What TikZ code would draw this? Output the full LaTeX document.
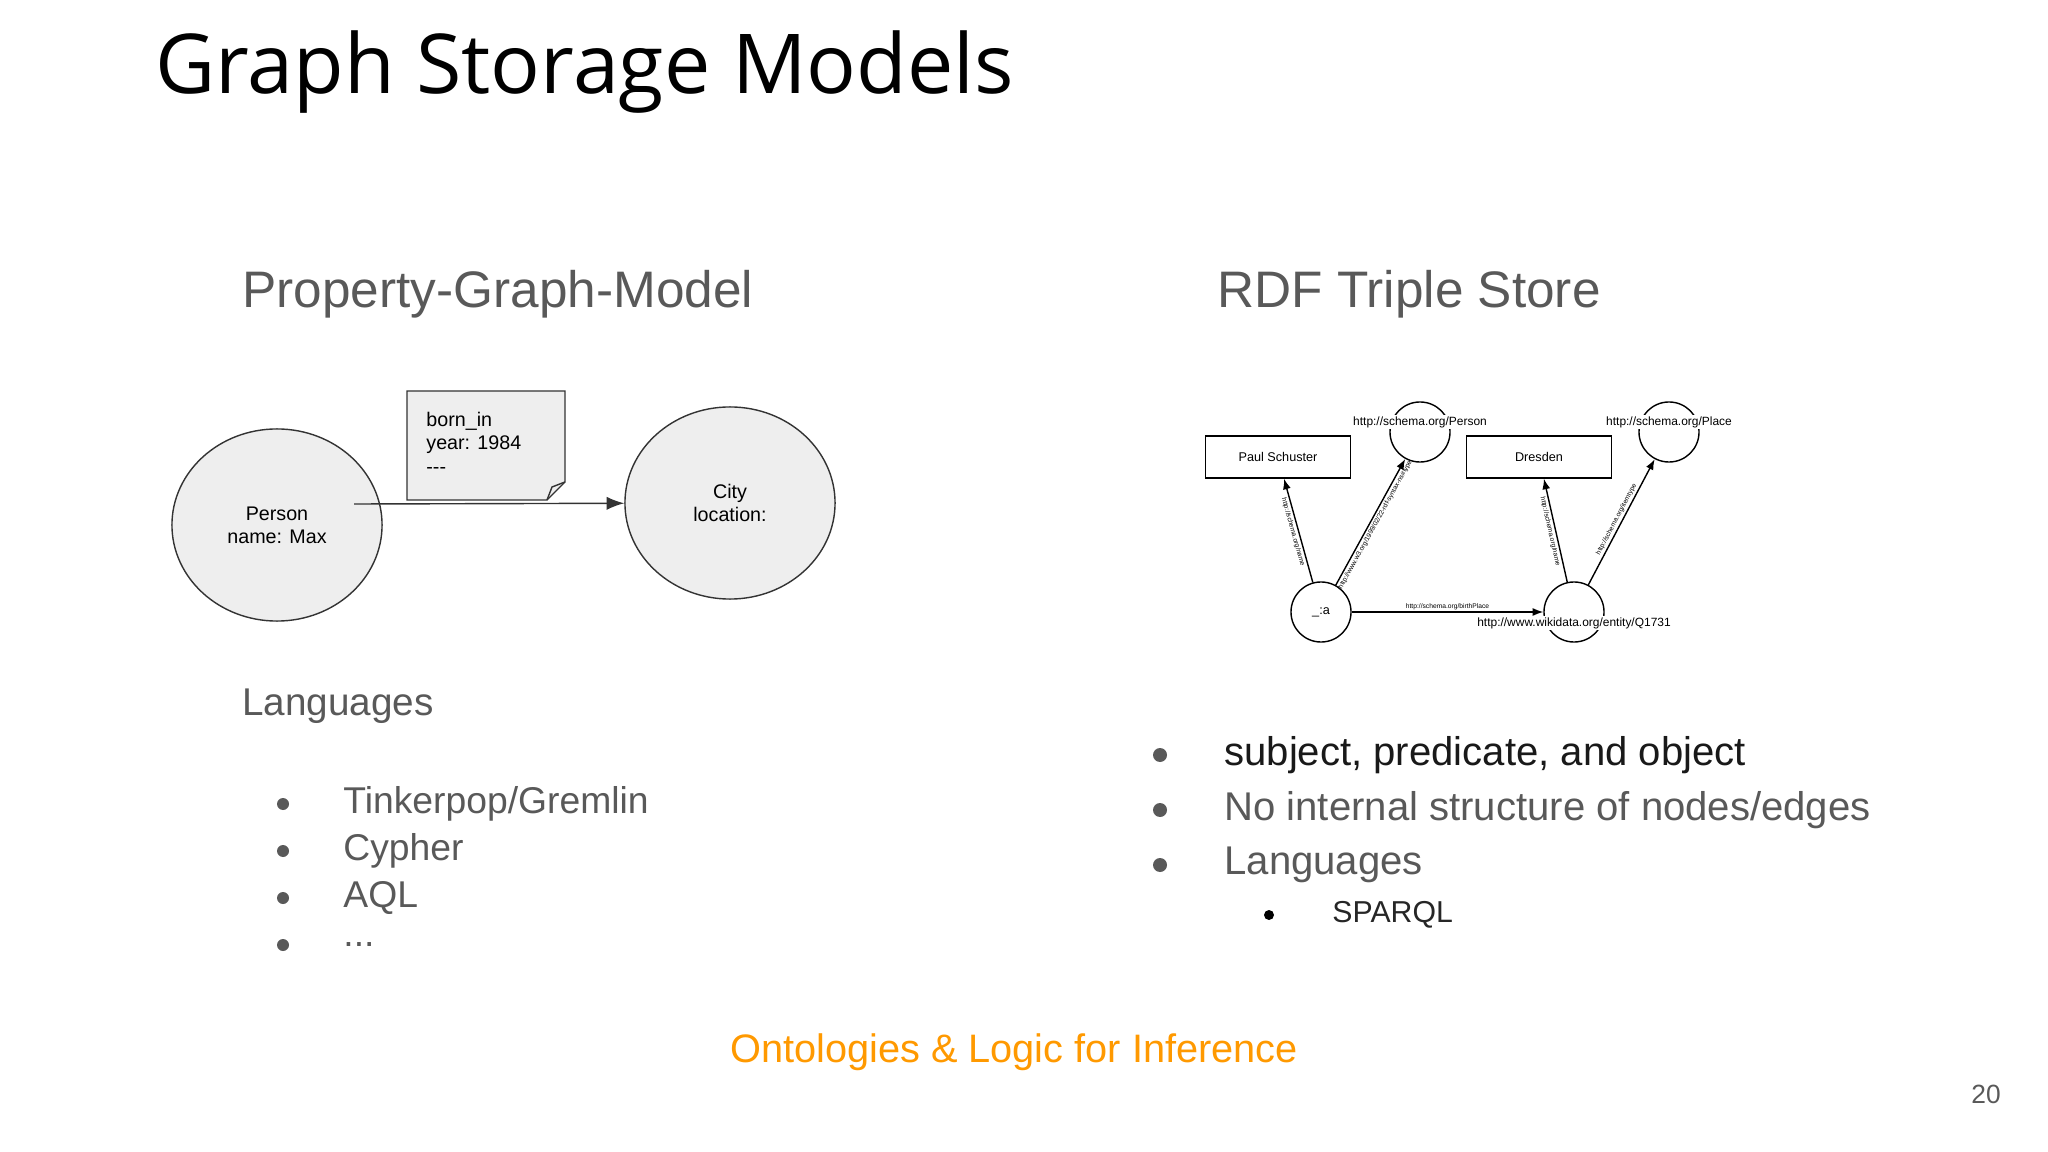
\documentclass[tikz,border=0pt]{standalone}
\usepackage{fontspec}
\setmainfont{Liberation Sans}
\newfontfamily\titlefont{Open Sans}
\usetikzlibrary{positioning,arrows.meta,shapes}
\definecolor{txtgray}{RGB}{89,89,89}
\definecolor{nodefill}{RGB}{238,238,238}
\definecolor{orangetxt}{RGB}{255,153,0}
\begin{document}
\begin{tikzpicture}[x=0.01cm,y=-0.01cm,
    blob/.style={ellipse,draw=black!80,fill=nodefill,minimum width=2.1cm,minimum height=1.92cm,align=center,font=\fontsize{5.6}{6.6}\selectfont},
    rnode/.style={circle,draw,minimum size=0.6cm,inner sep=0pt},
    rbox/.style={rectangle,draw,minimum width=1.45cm,minimum height=0.42cm,font=\fontsize{3.6}{4}\selectfont},
    ulabel/.style={font=\fontsize{3.4}{4}\selectfont,fill=white,inner sep=0.5pt},
    elabel/.style={font=\fontsize{1.9}{2}\selectfont,inner sep=0.5pt},
    head/.style={anchor=west,text=txtgray,font=\fontsize{14.6}{16}\selectfont},
    item/.style={anchor=west,text=txtgray,font=\fontsize{10.6}{12}\selectfont},
    ritem/.style={anchor=west,text=txtgray,font=\fontsize{11.4}{13}\selectfont}]
    \useasboundingbox (0,0) rectangle (2048,1152);

    % Title
    \node[anchor=west,font=\titlefont\fontsize{23.5}{26}\selectfont] (title) at (143,72) {Graph Storage Models};

    % Property graph
    \node[head] (pgm) at (230,294) {Property-Graph-Model};
    \node[blob] (person) at (277,525) {Person\\name: Max};
    \node[blob] (city) at (730,503) {City\\location:};
    \draw[black!80,fill=nodefill] (407,391) -- (565,391) -- (565,482) -- (547,500) -- (407,500) -- cycle;
    \draw[black!80] (565,482) -- (552,487) -- (547,500);
    \node[anchor=north west,align=left,font=\fontsize{5.6}{6.6}\selectfont] (edge) at (414,400) {born\_in\\year: 1984\\{-}{-}{-}};
    \coordinate (pstart) at (354,504);
    \draw[-{Latex[length=5pt]},black!80] (pstart) -- (city);

    \node[anchor=west,text=txtgray,font=\fontsize{11}{12}\selectfont] (lang) at (230,706) {Languages};
    \foreach \t [count=\i] in {Tinkerpop/Gremlin,Cypher,AQL,{{...}}}{
      \fill[txtgray] (283,{804+47*(\i-1)}) circle (6);
      \node[item] (l\i) at (331,{804+47*(\i-1)}) {\t};
    }

    % RDF
    \node[head] (rdf) at (1205,294) {RDF Triple Store};
    \node[rbox] (paul) at (1278,457) {Paul Schuster};
    \node[rbox] (dresden) at (1539,457) {Dresden};
    \node[rnode] (pers) at (1420,432) {};
    \node[rnode] (place) at (1669,432) {};
    \node[rnode,font=\fontsize{3.6}{4}\selectfont] (a) at (1321,612) {\_:a};
    \node[rnode] (q) at (1574,612) {};
    \node[ulabel] at (1420,422) {http://schema.org/Person};
    \node[ulabel] at (1669,422) {http://schema.org/Place};
    \node[ulabel] at (1574,623) {http://www.wikidata.org/entity/Q1731};
    \draw[-{Latex[length=3pt]}] (a) -- node[elabel,below,sloped]{http://schema.org/name} (paul);
    \draw[-{Latex[length=3pt]}] (a) -- node[elabel,below,sloped]{http://www.w3.org/1999/02/22-rdf-syntax-ns\#type} (pers);
    \draw[-{Latex[length=3pt]}] (a) -- node[elabel,above]{http://schema.org/birthPlace} (q);
    \draw[-{Latex[length=3pt]}] (q) -- node[elabel,below,sloped]{http://schema.org/name} (dresden);
    \draw[-{Latex[length=3pt]}] (q) -- node[elabel,above,sloped]{http://schema.org/itemtype} (place);

    \fill[txtgray] (1160,755) circle (7);
    \fill[txtgray] (1160,810) circle (7);
    \fill[txtgray] (1160,865) circle (7);
    \node[ritem,text=black!90] (r1) at (1212,755) {subject, predicate, and object};
    \node[ritem] (r2) at (1212,810) {No internal structure of nodes/edges};
    \node[ritem] (r3) at (1212,865) {Languages};
    \fill[black] (1269,915) circle (5);
    \node[item,text=black!85,font=\fontsize{8.6}{10}\selectfont] (sparql) at (1320,915) {SPARQL};

    % Footer
    \node[text=orangetxt,font=\fontsize{11.3}{12}\selectfont] (foot) at (1014,1052) {Ontologies \& Logic for Inference};
    \node[text=txtgray,font=\fontsize{7.5}{9}\selectfont] (page) at (1986,1094) {20};
\end{tikzpicture}
\end{document}
